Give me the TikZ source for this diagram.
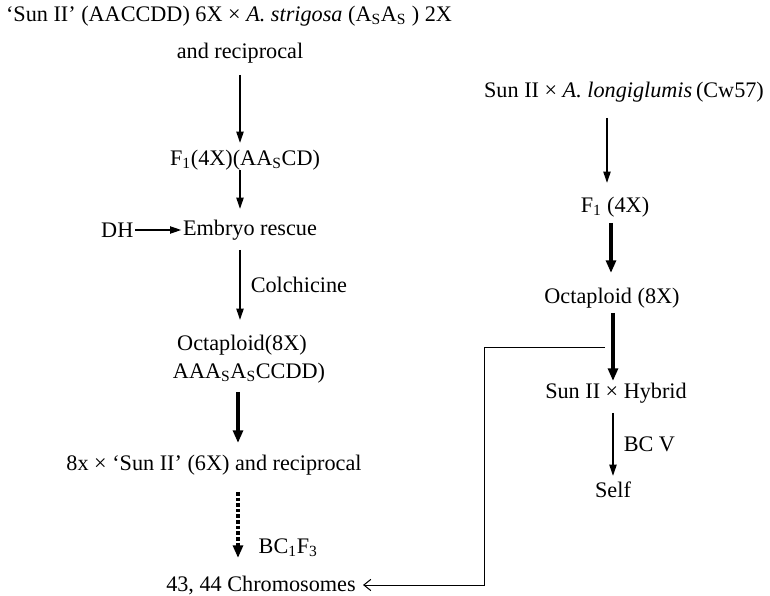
\documentclass[tikz,border=0pt]{standalone}
\usepackage{fontspec}
\setmainfont{Liberation Serif}
\usetikzlibrary{arrows.meta, positioning}

\begin{document}
\begin{tikzpicture}[
    x=0.025cm, y=-0.025cm,
    lbl/.style={inner sep=1pt, font=\fontsize{15.8}{18}\selectfont, align=center},
    arr/.style={-{Triangle[length=8pt, width=5pt]}, line width=1.3pt},
    thickarr/.style={-{Triangle[length=9pt, width=7pt]}, line width=2.6pt},
    dotarr/.style={-{Triangle[length=9pt, width=7pt]}, line width=2.4pt, dash pattern=on 2.5pt off 1.5pt},
    link/.style={-{Straight Barb[length=5pt, width=8pt]}, line width=0.7pt, shorten >=4pt},
]
\useasboundingbox (0,0) rectangle (770,596);

% Left scheme
\node[lbl] (cross) at (229,16) {‘Sun II’ (AACCDD) 6X × \textit{A. strigosa} (A\textsubscript{S}A\textsubscript{S} ) 2X};
\node[lbl] (recip) at (240,53) {and reciprocal};
\node[lbl] (f1) at (245,160) {F\textsubscript{1}(4X)(AA\textsubscript{S}CD)};
\node[lbl] (embryo) at (250,230) {Embryo rescue};
\node[lbl, anchor=east] (dh) at (135,230) {DH};
\node[lbl] (oct) at (242,345) {Octaploid(8X)};
\node[lbl] (genome) at (249,373) {AAA\textsubscript{S}A\textsubscript{S}CCDD)};
\node[lbl] (back) at (214,465) {8x × ‘Sun II’ (6X) and reciprocal};
\node[lbl] (chrom) at (261,585) {43, 44 Chromosomes};

\draw[arr] (240,75) -- (240,143);
\draw[arr] (240,170) -- (240,209);
\draw[arr] (dh) -- (embryo);
\draw[arr] (240,250) -- (240,320) node[midway, right=6pt, lbl] (colch) {Colchicine};
\draw[thickarr] (238,392) -- (238,443);
\draw[dotarr] (238,492) -- (238,558);
\node[lbl, anchor=west] (bc1f3) at (257,548) {BC\textsubscript{1}F\textsubscript{3}};

% Right scheme
\node[lbl] (cross2) at (624,92) {Sun II × \textit{A. longiglumis}\,(Cw57)};
\node[lbl] (f1b) at (615,207) {F\textsubscript{1} (4X)};
\node[lbl] (oct2) at (612,298) {Octaploid (8X)};
\node[lbl] (hybrid) at (616,393) {Sun II × Hybrid};
\node[lbl] (self) at (613,490) {Self};

\draw[arr] (607,118) -- (607,183);
\draw[thickarr] (611,223) -- (611,273);
\draw[thickarr] (613,313) -- (613,381);
\draw[arr] (613,413) -- (613,476) node[midway, right=6pt, lbl] (bcv) {BC V};

% Link to chromosome count
\coordinate (jn) at (605,347);
\draw[link] (jn) -- (484,347) -- (484,585) -- (chrom.east);

\end{tikzpicture}
\end{document}
